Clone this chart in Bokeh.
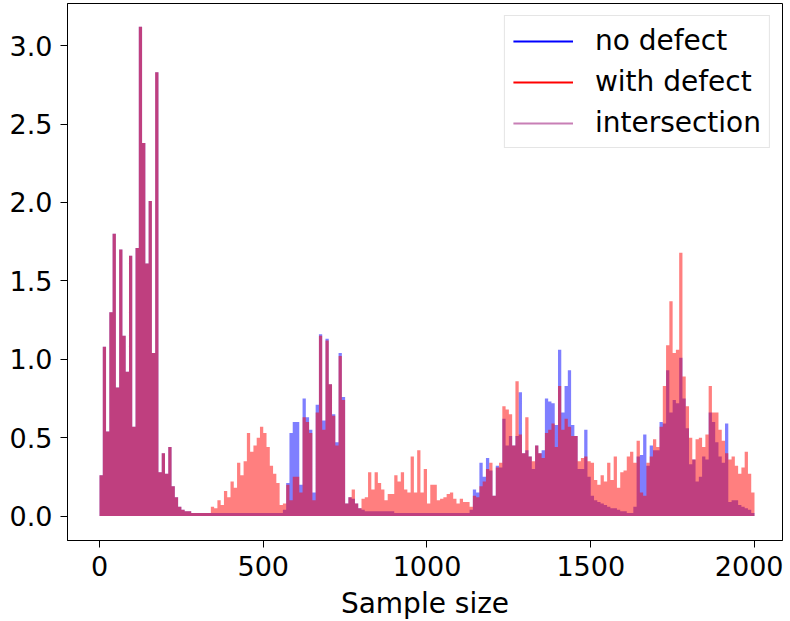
import numpy as np
from bokeh.plotting import figure
from bokeh.models import Range1d, FixedTicker, PrintfTickFormatter, Legend, LegendItem
from bokeh.embed import file_html
from bokeh.resources import INLINE

# ---- data (one value per 10-sample bin) ----
bin_width = 10
bin_start = list(range(0, 2000, 10))

no_defect = [
    0.26, 1.08, 0.54, 1.30, 1.80, 0.82, 1.70, 1.15, 0.92, 1.66,
    0.57, 1.71, 3.12, 2.38, 1.61, 2.01, 1.04, 2.83, 0.28, 0.40,
    0.27, 0.44, 0.19, 0.12, 0.06, 0.04, 0.03, 0.03, 0.02, 0.02,
    0.02, 0.02, 0.02, 0.02, 0.02, 0.02, 0.02, 0.02, 0.02, 0.02,
    0.02, 0.02, 0.02, 0.02, 0.02, 0.02, 0.02, 0.02, 0.02, 0.02,
    0.02, 0.02, 0.02, 0.02, 0.02, 0.02, 0.04, 0.21, 0.53, 0.60,
    0.60, 0.20, 0.75, 0.63, 0.55, 0.15, 0.71, 1.16, 0.61, 1.13,
    0.84, 0.65, 0.47, 1.04, 0.76, 0.08, 0.12, 0.11, 0.08, 0.05,
    0.04, 0.03, 0.03, 0.03, 0.03, 0.03, 0.03, 0.03, 0.03, 0.03,
    0.02, 0.02, 0.02, 0.02, 0.02, 0.02, 0.02, 0.02, 0.02, 0.02,
    0.02, 0.02, 0.02, 0.02, 0.02, 0.02, 0.02, 0.02, 0.02, 0.02,
    0.02, 0.02, 0.02, 0.04, 0.17, 0.15, 0.34, 0.25, 0.37, 0.29,
    0.13, 0.32, 0.31, 0.62, 0.45, 0.51, 0.45, 0.51, 0.79, 0.40,
    0.42, 0.38, 0.30, 0.45, 0.40, 0.42, 0.75, 0.73, 0.72, 0.58,
    1.06, 0.66, 0.83, 0.93, 0.58, 0.51, 0.30, 0.30, 0.55, 0.25,
    0.13, 0.10, 0.09, 0.08, 0.07, 0.06, 0.05, 0.05, 0.04, 0.03,
    0.03, 0.02, 0.02, 0.06, 0.38, 0.39, 0.52, 0.32, 0.45, 0.42,
    0.42, 0.60, 0.59, 0.93, 0.66, 0.74, 0.72, 1.01, 0.75, 0.56,
    0.33, 0.36, 0.22, 0.25, 0.38, 0.36, 0.66, 0.60, 0.47, 0.38,
    0.34, 0.59, 0.09, 0.10, 0.10, 0.07, 0.06, 0.05, 0.04, 0.02,
]

with_defect = [
    0.26, 1.08, 0.54, 1.30, 1.80, 0.82, 1.70, 1.15, 0.92, 1.66,
    0.57, 1.71, 3.12, 2.38, 1.61, 2.01, 1.04, 2.83, 0.28, 0.40,
    0.27, 0.44, 0.19, 0.12, 0.06, 0.04, 0.03, 0.03, 0.02, 0.02,
    0.02, 0.02, 0.02, 0.02, 0.06, 0.05, 0.10, 0.07, 0.16, 0.12,
    0.22, 0.18, 0.34, 0.26, 0.35, 0.53, 0.41, 0.45, 0.50, 0.57,
    0.53, 0.44, 0.32, 0.27, 0.21, 0.07, 0.08, 0.20, 0.10, 0.25,
    0.25, 0.15, 0.63, 0.60, 0.53, 0.10, 0.66, 1.15, 0.55, 1.12,
    0.84, 0.64, 0.45, 1.02, 0.74, 0.08, 0.12, 0.17, 0.08, 0.05,
    0.11, 0.12, 0.28, 0.17, 0.28, 0.21, 0.17, 0.10, 0.14, 0.14,
    0.26, 0.22, 0.28, 0.17, 0.15, 0.38, 0.15, 0.42, 0.15, 0.30,
    0.08, 0.20, 0.20, 0.10, 0.11, 0.12, 0.14, 0.15, 0.11, 0.08,
    0.11, 0.09, 0.09, 0.06, 0.13, 0.12, 0.19, 0.22, 0.30, 0.34,
    0.13, 0.31, 0.34, 0.70, 0.68, 0.65, 0.45, 0.86, 0.52, 0.40,
    0.63, 0.38, 0.35, 0.45, 0.40, 0.37, 0.53, 0.55, 0.59, 0.44,
    0.83, 0.55, 0.62, 0.57, 0.51, 0.51, 0.35, 0.37, 0.38, 0.35,
    0.34, 0.23, 0.20, 0.26, 0.22, 0.34, 0.23, 0.38, 0.18, 0.28,
    0.29, 0.38, 0.41, 0.34, 0.48, 0.15, 0.13, 0.34, 0.38, 0.49,
    0.44, 0.57, 0.83, 1.09, 1.37, 1.04, 1.06, 1.68, 0.89, 0.70,
    0.50, 0.36, 0.49, 0.50, 0.44, 0.52, 0.83, 0.66, 0.66, 0.55,
    0.48, 0.40, 0.36, 0.38, 0.32, 0.27, 0.31, 0.41, 0.27, 0.15,
]

x_ticks = [0, 500, 1000, 1500, 2000]
y_ticks = [0.0, 0.5, 1.0, 1.5, 2.0, 2.5, 3.0]
series_labels = ["no defect", "with defect", "intersection"]


def step_outline(vals):
    starts = np.asarray(bin_start, dtype=float)
    edges = np.append(starts, starts[-1] + bin_width)
    xs = np.repeat(edges, 2)[1:-1]
    ys = np.repeat(np.asarray(vals, dtype=float), 2)
    return xs, ys


FONT = "DejaVu Sans"

p = figure(
    frame_width=715, frame_height=537,
    x_range=Range1d(-97.7, 2085.5), y_range=Range1d(-0.156, 3.269),
    output_backend="svg", toolbar_location=None,
    min_border_left=67, min_border_right=1, min_border_top=3, min_border_bottom=0,
)
p.xgrid.visible = False
p.ygrid.visible = False
p.outline_line_color = "black"
p.outline_line_width = 1
p.outline_line_alpha = 1
p.background_fill_color = "white"
p.border_fill_color = "white"

xs, nd_ys = step_outline(no_defect)
_, wd_ys = step_outline(with_defect)
p.varea(x=xs, y1=0, y2=nd_ys, fill_color="blue", fill_alpha=0.5)
p.varea(x=xs, y1=0, y2=wd_ys, fill_color="red", fill_alpha=0.5)

# legend proxies (no visible marks)
nan = float("nan")
l1 = p.line(x=[nan], y=[nan], line_color="blue", line_width=2)
l2 = p.line(x=[nan], y=[nan], line_color="red", line_width=2)
l3 = p.line(x=[nan], y=[nan], line_color="#c87fb5", line_width=2)

for ax in (p.xaxis[0], p.yaxis[0]):
    ax.major_tick_out = 7
    ax.major_tick_in = 0
    ax.minor_tick_out = 0
    ax.minor_tick_in = 0
    ax.axis_line_color = "black"
    ax.major_tick_line_color = "black"
    ax.major_label_text_font = FONT
    ax.major_label_text_font_size = "27px"
    ax.major_label_text_color = "#000000"
    ax.axis_label_text_font = FONT
    ax.axis_label_text_font_size = "28px"
    ax.axis_label_text_font_style = "normal"
    ax.axis_label_text_color = "#000000"

p.xaxis.ticker = FixedTicker(ticks=x_ticks)
p.yaxis.ticker = FixedTicker(ticks=y_ticks)
p.yaxis.formatter = PrintfTickFormatter(format="%.1f")
p.xaxis.major_label_standoff = 8
p.yaxis.major_label_standoff = 8
p.xaxis.axis_label = "Sample size"
p.xaxis.axis_label_standoff = 8

legend = Legend(
    items=[
        LegendItem(label=series_labels[0], renderers=[l1]),
        LegendItem(label=series_labels[1], renderers=[l2]),
        LegendItem(label=series_labels[2], renderers=[l3]),
    ],
    location="top_right",
    margin=12, padding=8, spacing=8,
    glyph_width=60, glyph_height=32, label_height=32, label_standoff=22,
    label_text_font=FONT, label_text_font_size="28px", label_text_color="#000000",
    border_line_color="#cccccc", border_line_width=1,
    background_fill_color="white", background_fill_alpha=0.8,
)
p.add_layout(legend)

open("out.html", "w").write(file_html(p, INLINE))
